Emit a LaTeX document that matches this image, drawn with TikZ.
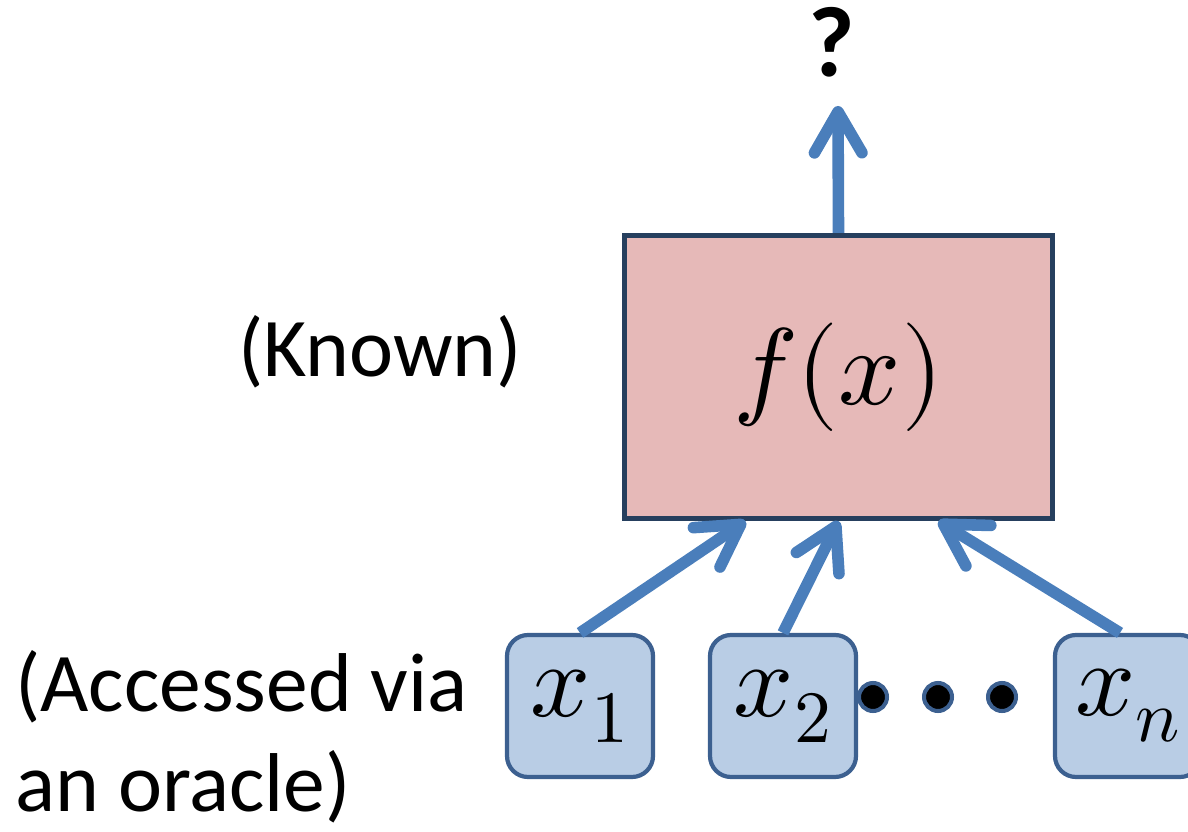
\documentclass[tikz,border=0pt]{standalone}
\usepackage{fontspec}
\usepackage{unicode-math}
\setmainfont{Carlito}
\usetikzlibrary{arrows.meta}

\definecolor{funcfill}{HTML}{E6B9B8}
\definecolor{funcline}{HTML}{263F5E}
\definecolor{inputfill}{HTML}{B9CDE5}
\definecolor{inputline}{HTML}{3C6090}
\definecolor{flowblue}{HTML}{4A7EBB}

\begin{document}
\begin{tikzpicture}[
  funcbox/.style={draw=funcline, fill=funcfill, line width=3pt,
    minimum width=8.56cm, minimum height=5.66cm, inner sep=0pt,
    font=\fontsize{62}{70}\selectfont},
  inputbox/.style={draw=inputline, fill=inputfill, line width=2.4pt,
    rounded corners=0.42cm, minimum width=2.92cm, minimum height=2.84cm,
    inner sep=0pt, font=\fontsize{60}{70}\selectfont},
  dotnode/.style={circle, draw=inputline, fill=black, line width=2.3pt,
    minimum size=0.56cm, inner sep=0pt},
  flow/.style={draw=flowblue, line width=6.6pt,
    -{Straight Barb[length=0.82cm, width=0.95cm, round]}},
  sidetext/.style={font=\fontsize{47.5}{57}\selectfont, inner sep=0pt}
]

  % Fix the page to the size of the reference
  \useasboundingbox (0, 0) rectangle (23.76, 16.62);

  % The known function in the middle
  \node[funcbox] (fbox) at (16.77, 9.08) {$f(x)$};

  % The inputs below it, the last one runs off the edge
  \node[inputbox] (x1) at (11.60, 2.50) {$x_1$};
  \node[inputbox] (x2) at (15.66, 2.50) {$x_2$};
  \node[inputbox] (xn) at (22.56, 2.50) {$x_n$};

  % Dots between the second and the last input
  \node[dotnode] (d1) at (17.46, 2.68) {};
  \node[dotnode] (d2) at (18.76, 2.68) {};
  \node[dotnode] (d3) at (20.04, 2.68) {};

  % Output arrow and the question mark above it
  \coordinate (out) at (16.76, 14.50);
  \draw[flow] (fbox.north) -- (out);
  \node[font=\fontsize{57}{60}\selectfont\bfseries] (ask) at (16.64, 15.78) {?};

  % Input arrows going up into the box
  \draw[flow] (x1.north) -- ([xshift=-1.86cm]fbox.south);
  \draw[flow] (x2.north) -- (fbox.south);
  \draw[flow] ([xshift=-0.16cm]xn.north) -- ([xshift=2.0cm]fbox.south);

  % Side labels
  \node[sidetext, anchor=base] (known) at (7.60, 9.08) {(Known)};
  \node[sidetext, align=left, anchor=north west] (oracle) at (0.30, 3.62)
    {(Accessed via\\an oracle)};

\end{tikzpicture}
\end{document}
